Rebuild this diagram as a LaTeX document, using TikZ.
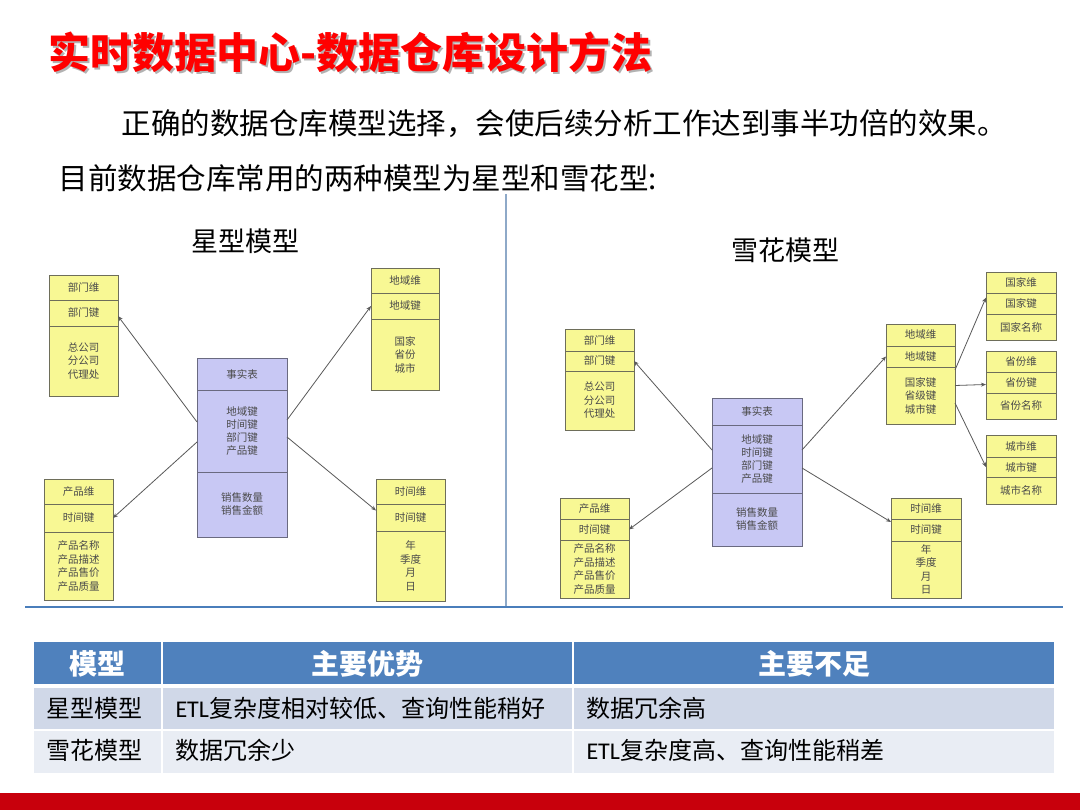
\documentclass[tikz,border=0pt]{standalone}
\usepackage{fontspec}
\setmainfont{Noto Sans CJK SC}
\newfontfamily\latfont{Carlito}
\usetikzlibrary{arrows.meta,calc}
\definecolor{titlered}{HTML}{FF0000}
\definecolor{dimfill}{HTML}{F8F894}
\definecolor{dimdraw}{HTML}{6E6E5A}
\definecolor{factfill}{HTML}{C8C8F4}
\definecolor{factdraw}{HTML}{6A6A80}
\definecolor{boxtext}{HTML}{4A4A4A}
\definecolor{hdrblue}{HTML}{4F81BD}
\definecolor{rowa}{HTML}{D0D8E8}
\definecolor{rowb}{HTML}{E9EDF4}
\definecolor{barred}{HTML}{C8000C}
\definecolor{divblue}{HTML}{8EA9C8}
\definecolor{lineblue}{HTML}{4A7EBB}
\newcommand\dimtbl[9]{%
  \node[cell, minimum width=#3pt, minimum height=#4pt, anchor=north west] (#1h) at #2 {#7};
  \node[cell, minimum width=#3pt, minimum height=#5pt, anchor=north west] (#1k) at (#1h.south west) {#8};
  \node[cell, minimum width=#3pt, minimum height=#6pt, anchor=north west] (#1b) at (#1k.south west) {#9};
}
\begin{document}
\begin{tikzpicture}[x=1pt,y=-1pt,
  cell/.style={draw=dimdraw, fill=dimfill, line width=0.8pt, inner sep=0pt, outer sep=0pt,
    align=center, text=boxtext, font=\fontsize{10.5}{13.5}\selectfont},
  factcell/.style={draw=factdraw, fill=factfill, line width=0.8pt, inner sep=0pt, outer sep=0pt,
    align=center, text=boxtext, font=\fontsize{10.5}{13}\selectfont},
  arr/.style={draw=black!65, line width=0.8pt, -{Stealth[length=5pt,width=4pt]}},
  hdrtext/.style={text=white, font=\fontsize{28}{30}\bfseries},
  rowtext/.style={anchor=west, text=black, font=\fontsize{24}{26}\selectfont},
]
\useasboundingbox (0,0) rectangle (1080,810);
\fill[white] (0,0) rectangle (1080,810);

% title
\node[anchor=west, text=black!30, font=\fontsize{42}{42}\bfseries] (titleshadow) at (47,54) {实时数据中心-数据仓库设计方法};
\node[anchor=west, text=titlered, font=\fontsize{42}{42}\bfseries] (title) at (45,52) {实时数据中心-数据仓库设计方法};

% intro text
\node[anchor=west, font=\fontsize{29.5}{30}\selectfont] (line1) at (118,124) {正确的数据仓库模型选择，会使后续分析工作达到事半功倍的效果。};
\node[anchor=west, font=\fontsize{29.5}{30}\selectfont] (line2) at (55,178) {目前数据仓库常用的两种模型为星型和雪花型:};

% captions
\node[font=\fontsize{27}{28}\selectfont] (starcap) at (245,241) {星型模型};
\node[font=\fontsize{27}{28}\selectfont] (snowcap) at (785,250) {雪花模型};

% dividers
\draw[divblue, line width=1.5pt] (506,194) -- (506,607);
\draw[lineblue, line width=1.3pt] (25,607) -- (1063,607);

% ---------- star model ----------
\dimtbl{sd}{(49,275)}{69}{25}{26}{70}{部门维}{部门键}{总公司\\分公司\\代理处}
\dimtbl{sp}{(44,479)}{69}{25}{28}{68}{产品维}{时间键}{产品名称\\产品描述\\产品售价\\产品质量}
\dimtbl{sg}{(371,268)}{68}{25}{26}{71}{地域维}{地域键}{国家\\省份\\城市}
\dimtbl{st}{(376,479)}{69}{25}{27}{70}{时间维}{时间键}{年\\季度\\月\\日}
\begin{scope}[cell/.style=factcell]
\dimtbl{sf}{(197,358)}{90}{32}{82}{65}{事实表}{地域键\\时间键\\部门键\\产品键}{销售数量\\销售金额}
\end{scope}
\draw[arr] ([yshift=9pt]sfk.west) -- ([yshift=-3pt]sdk.east);
\draw[arr] ([yshift=-11pt]sfk.west) -- (spk.east);
\draw[arr] ([yshift=11pt]sfk.east) -- (sgk.west);
\draw[arr] ([yshift=-6pt]sfk.east) -- ([yshift=7pt]stk.west);

% ---------- snowflake model ----------
\dimtbl{nd}{(565,329)}{69}{22}{20}{59}{部门维}{部门键}{总公司\\分公司\\代理处}
\dimtbl{np}{(560,498)}{69}{21}{21}{58}{产品维}{时间键}{产品名称\\产品描述\\产品售价\\产品质量}
\dimtbl{ng}{(886,324)}{69}{22}{21}{57}{地域维}{地域键}{国家键\\省级键\\城市键}
\dimtbl{nt}{(891,498)}{70}{21}{22}{57}{时间维}{时间键}{年\\季度\\月\\日}
\dimtbl{nc}{(986,272)}{70}{21}{21}{26}{国家维}{国家键}{国家名称}
\dimtbl{ns}{(986,351)}{70}{21}{21}{26}{省份维}{省份键}{省份名称}
\dimtbl{ny}{(986,435)}{70}{22}{20}{27}{城市维}{城市键}{城市名称}
\begin{scope}[cell/.style=factcell]
\dimtbl{nf}{(712,398)}{90}{27}{68}{53}{事实表}{地域键\\时间键\\部门键\\产品键}{销售数量\\销售金额}
\end{scope}
\draw[arr] ([yshift=9pt]nfk.west) -- (ndk.east);
\draw[arr] ([yshift=-9pt]nfk.west) -- (npk.east);
\draw[arr] ([yshift=9pt]nfk.east) -- (ngk.west);
\draw[arr] ([yshift=-9pt]nfk.east) -- ([yshift=8pt]ntk.west);
\draw[arr] ([yshift=-3pt]ngb.north east) -- ([yshift=6pt]nck.west);
\draw[arr] ([yshift=10pt]ngb.east) -- ([yshift=-2pt]nsk.west);
\draw[arr] ([yshift=-7.5pt]ngb.east) -- (nyk.west);

% ---------- comparison table ----------
\fill[hdrblue] (34,642) rectangle (161,684);
\fill[hdrblue] (163,642) rectangle (572,684);
\fill[hdrblue] (574,642) rectangle (1054,684);
\fill[rowa] (34,688) rectangle (161,729);
\fill[rowa] (163,688) rectangle (572,729);
\fill[rowa] (574,688) rectangle (1054,729);
\fill[rowb] (34,731) rectangle (161,773);
\fill[rowb] (163,731) rectangle (572,773);
\fill[rowb] (574,731) rectangle (1054,773);

\node[hdrtext] (h1) at (97.5,664) {模型};
\node[hdrtext] (h2) at (367.5,664) {主要优势};
\node[hdrtext] (h3) at (814,664) {主要不足};

\node[rowtext] (r1a) at (43,708) {星型模型};
\node[rowtext] (r1b) at (172,708) {{\latfont ETL}复杂度相对较低、查询性能稍好};
\node[rowtext] (r1c) at (583,708) {数据冗余高};
\node[rowtext] (r2a) at (43,750) {雪花模型};
\node[rowtext] (r2b) at (172,750) {数据冗余少};
\node[rowtext] (r2c) at (583,750) {{\latfont ETL}复杂度高、查询性能稍差};

% bottom bar
\fill[barred] (0,793) rectangle (1080,810);
\end{tikzpicture}
\end{document}
